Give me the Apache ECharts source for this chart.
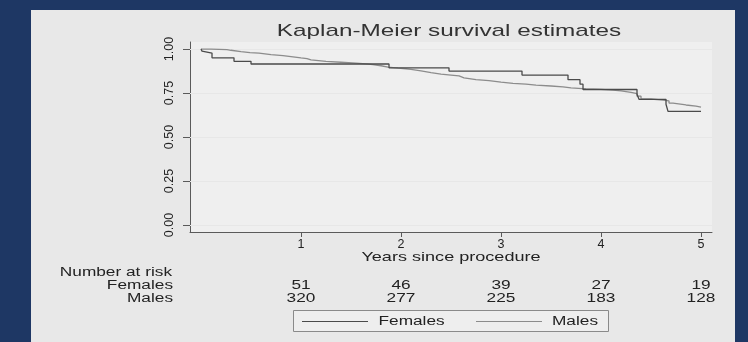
<!DOCTYPE html>
<html><head><meta charset="utf-8">
<script src="https://cdn.jsdelivr.net/npm/echarts@6/dist/echarts.min.js"></script>
<style>
html,body{margin:0;padding:0;background:#1e3764;}
#panel{position:absolute;left:31px;top:10px;width:704px;height:332px;background:#e8e8e8;}
#c{position:absolute;left:0;top:0;width:748px;height:342px;}
</style></head>
<body><div id="panel"></div><div id="c"></div>
<script>
// ---- data ----
const chartTitle = 'Kaplan-Meier survival estimates';
const xAxisTitle = 'Years since procedure';
const seriesNames = ['Females', 'Males'];
const xTicks = [1, 2, 3, 4, 5];
const yTicks = [0, 0.25, 0.5, 0.75, 1];
const femaleTimes = [0, 0.01, 0.02, 0.11, 0.33, 0.50, 1.88, 2.48, 3.21, 3.67, 3.79, 3.82, 4.36, 4.38, 4.65, 4.67, 5.00];
const femaleSurv  = [1.000, 0.988, 0.977, 0.950, 0.930, 0.915, 0.893, 0.875, 0.852, 0.826, 0.800, 0.770, 0.743, 0.714, 0.686, 0.646, 0.646];
const maleTimes = [0, 0.10, 0.26, 0.30, 0.40, 0.49, 0.58, 0.70, 0.82, 0.92, 1.00, 1.06, 1.10, 1.25, 1.40, 1.55, 1.65, 1.72, 1.80, 1.87, 1.97, 2.05, 2.10, 2.20, 2.30, 2.40, 2.50, 2.58, 2.63, 2.75, 2.88, 3.00, 3.12, 3.25, 3.35, 3.50, 3.62, 3.70, 3.85, 4.00, 4.12, 4.20, 4.30, 4.36, 4.40, 4.50, 4.62, 4.68, 4.72, 4.85, 4.95, 5.00];
const maleSurv  = [1.000, 0.997, 0.993, 0.985, 0.980, 0.977, 0.968, 0.962, 0.956, 0.950, 0.946, 0.938, 0.930, 0.925, 0.920, 0.916, 0.911, 0.905, 0.897, 0.891, 0.888, 0.884, 0.876, 0.866, 0.857, 0.852, 0.847, 0.836, 0.826, 0.820, 0.812, 0.805, 0.800, 0.795, 0.790, 0.785, 0.779, 0.774, 0.771, 0.767, 0.762, 0.754, 0.746, 0.732, 0.716, 0.710, 0.705, 0.693, 0.682, 0.676, 0.670, 0.667];
const riskTitle = 'Number at risk';
const riskTimes = [1, 2, 3, 4, 5];
const femalesAtRisk = [51, 46, 39, 27, 19];
const malesAtRisk = [320, 277, 225, 183, 128];

// ---- chart ----
const FONT = 'Liberation Sans, Arial, sans-serif';
const chart = echarts.init(document.getElementById('c'), null, {renderer: 'canvas'});
const femaleData = femaleTimes.map((t, i) => [t, femaleSurv[i]]);
const maleData = maleTimes.map((t, i) => [t, maleSurv[i]]);

chart.setOption({
  backgroundColor: 'transparent',
  animation: false,
  grid: {left: 190, right: 36, top: 42, bottom: 110, show: true, backgroundColor: '#efefef', borderWidth: 0},
  xAxis: {
    type: 'value', min: -0.11, max: 5.11,
    axisLine: {show: true, onZero: false, lineStyle: {color: '#5a5a5a', width: 1}},
    axisTick: {show: true, customValues: xTicks, length: 5, lineStyle: {color: '#5a5a5a'}},
    axisLabel: {customValues: xTicks, fontSize: 12.5, color: '#222', margin: 6, fontFamily: FONT},
    splitLine: {show: false}
  },
  yAxis: {
    type: 'value', min: -0.04, max: 1.04,
    axisLine: {show: true, onZero: false, lineStyle: {color: '#5a5a5a', width: 1}},
    axisTick: {show: true, customValues: yTicks, length: 7, lineStyle: {color: '#5a5a5a'}},
    axisLabel: {customValues: yTicks, rotate: 90, fontSize: 12.5, color: '#222', margin: 14, fontFamily: FONT,
      formatter: v => v.toFixed(2)},
    splitLine: {show: false}
  },
  series: [
    {name: seriesNames[1], type: 'line', step: 'end', data: maleData, symbol: 'none', z: 3,
     lineStyle: {color: '#8c8c8c', width: 1.3},
     markLine: {silent: true, symbol: ['none', 'none'], label: {show: false}, z: 1,
       lineStyle: {color: '#e7e7e7', type: 'solid', width: 1},
       data: yTicks.map(v => ({yAxis: v}))}},
    {name: seriesNames[0], type: 'line', step: 'end', data: femaleData, symbol: 'none', z: 4,
     lineStyle: {color: '#4a4a4a', width: 1.3}}
  ]
});

function px(t) { return chart.convertToPixel({xAxisIndex: 0}, t); }
const SX = 1.38;
function txt(text, x, y, size, align, sx, fill) {
  return {type: 'text', x: x, y: y, scaleX: sx || SX, silent: true,
    style: {text: String(text), font: size + 'px ' + FONT, fill: fill || '#222', align: align || 'center', verticalAlign: 'middle'}};
}
const plotCenter = (px(-0.11) + px(5.11)) / 2;
const g = [];
g.push(txt(chartTitle, plotCenter - 2, 31, 17, 'center', 1.43, '#333'));
g.push(txt(xAxisTitle, plotCenter, 257, 13, 'center', 1.39, '#222'));
g.push(txt(riskTitle, 172, 273, 12.5, 'right'));
g.push(txt(seriesNames[0], 173, 286, 12.5, 'right'));
g.push(txt(seriesNames[1], 173, 299, 12.5, 'right'));
riskTimes.forEach((t, i) => {
  g.push(txt(femalesAtRisk[i], px(t), 286, 12.5, 'center'));
  g.push(txt(malesAtRisk[i], px(t), 299, 12.5, 'center'));
});
// legend
g.push({type: 'rect', silent: true, shape: {x: 293.5, y: 310.5, width: 315, height: 21},
  style: {fill: '#eeeeee', stroke: '#8a8a8a', lineWidth: 1}});
g.push({type: 'line', silent: true, shape: {x1: 302, y1: 321.5, x2: 368, y2: 321.5}, style: {stroke: '#4a4a4a', lineWidth: 1}});
g.push(txt(seriesNames[0], 378.5, 321.5, 12.5, 'left'));
g.push({type: 'line', silent: true, shape: {x1: 476, y1: 321.5, x2: 542, y2: 321.5}, style: {stroke: '#8c8c8c', lineWidth: 1}});
g.push(txt(seriesNames[1], 552, 321.5, 12.5, 'left'));
chart.setOption({graphic: {elements: g}});
</script>
</body></html>
